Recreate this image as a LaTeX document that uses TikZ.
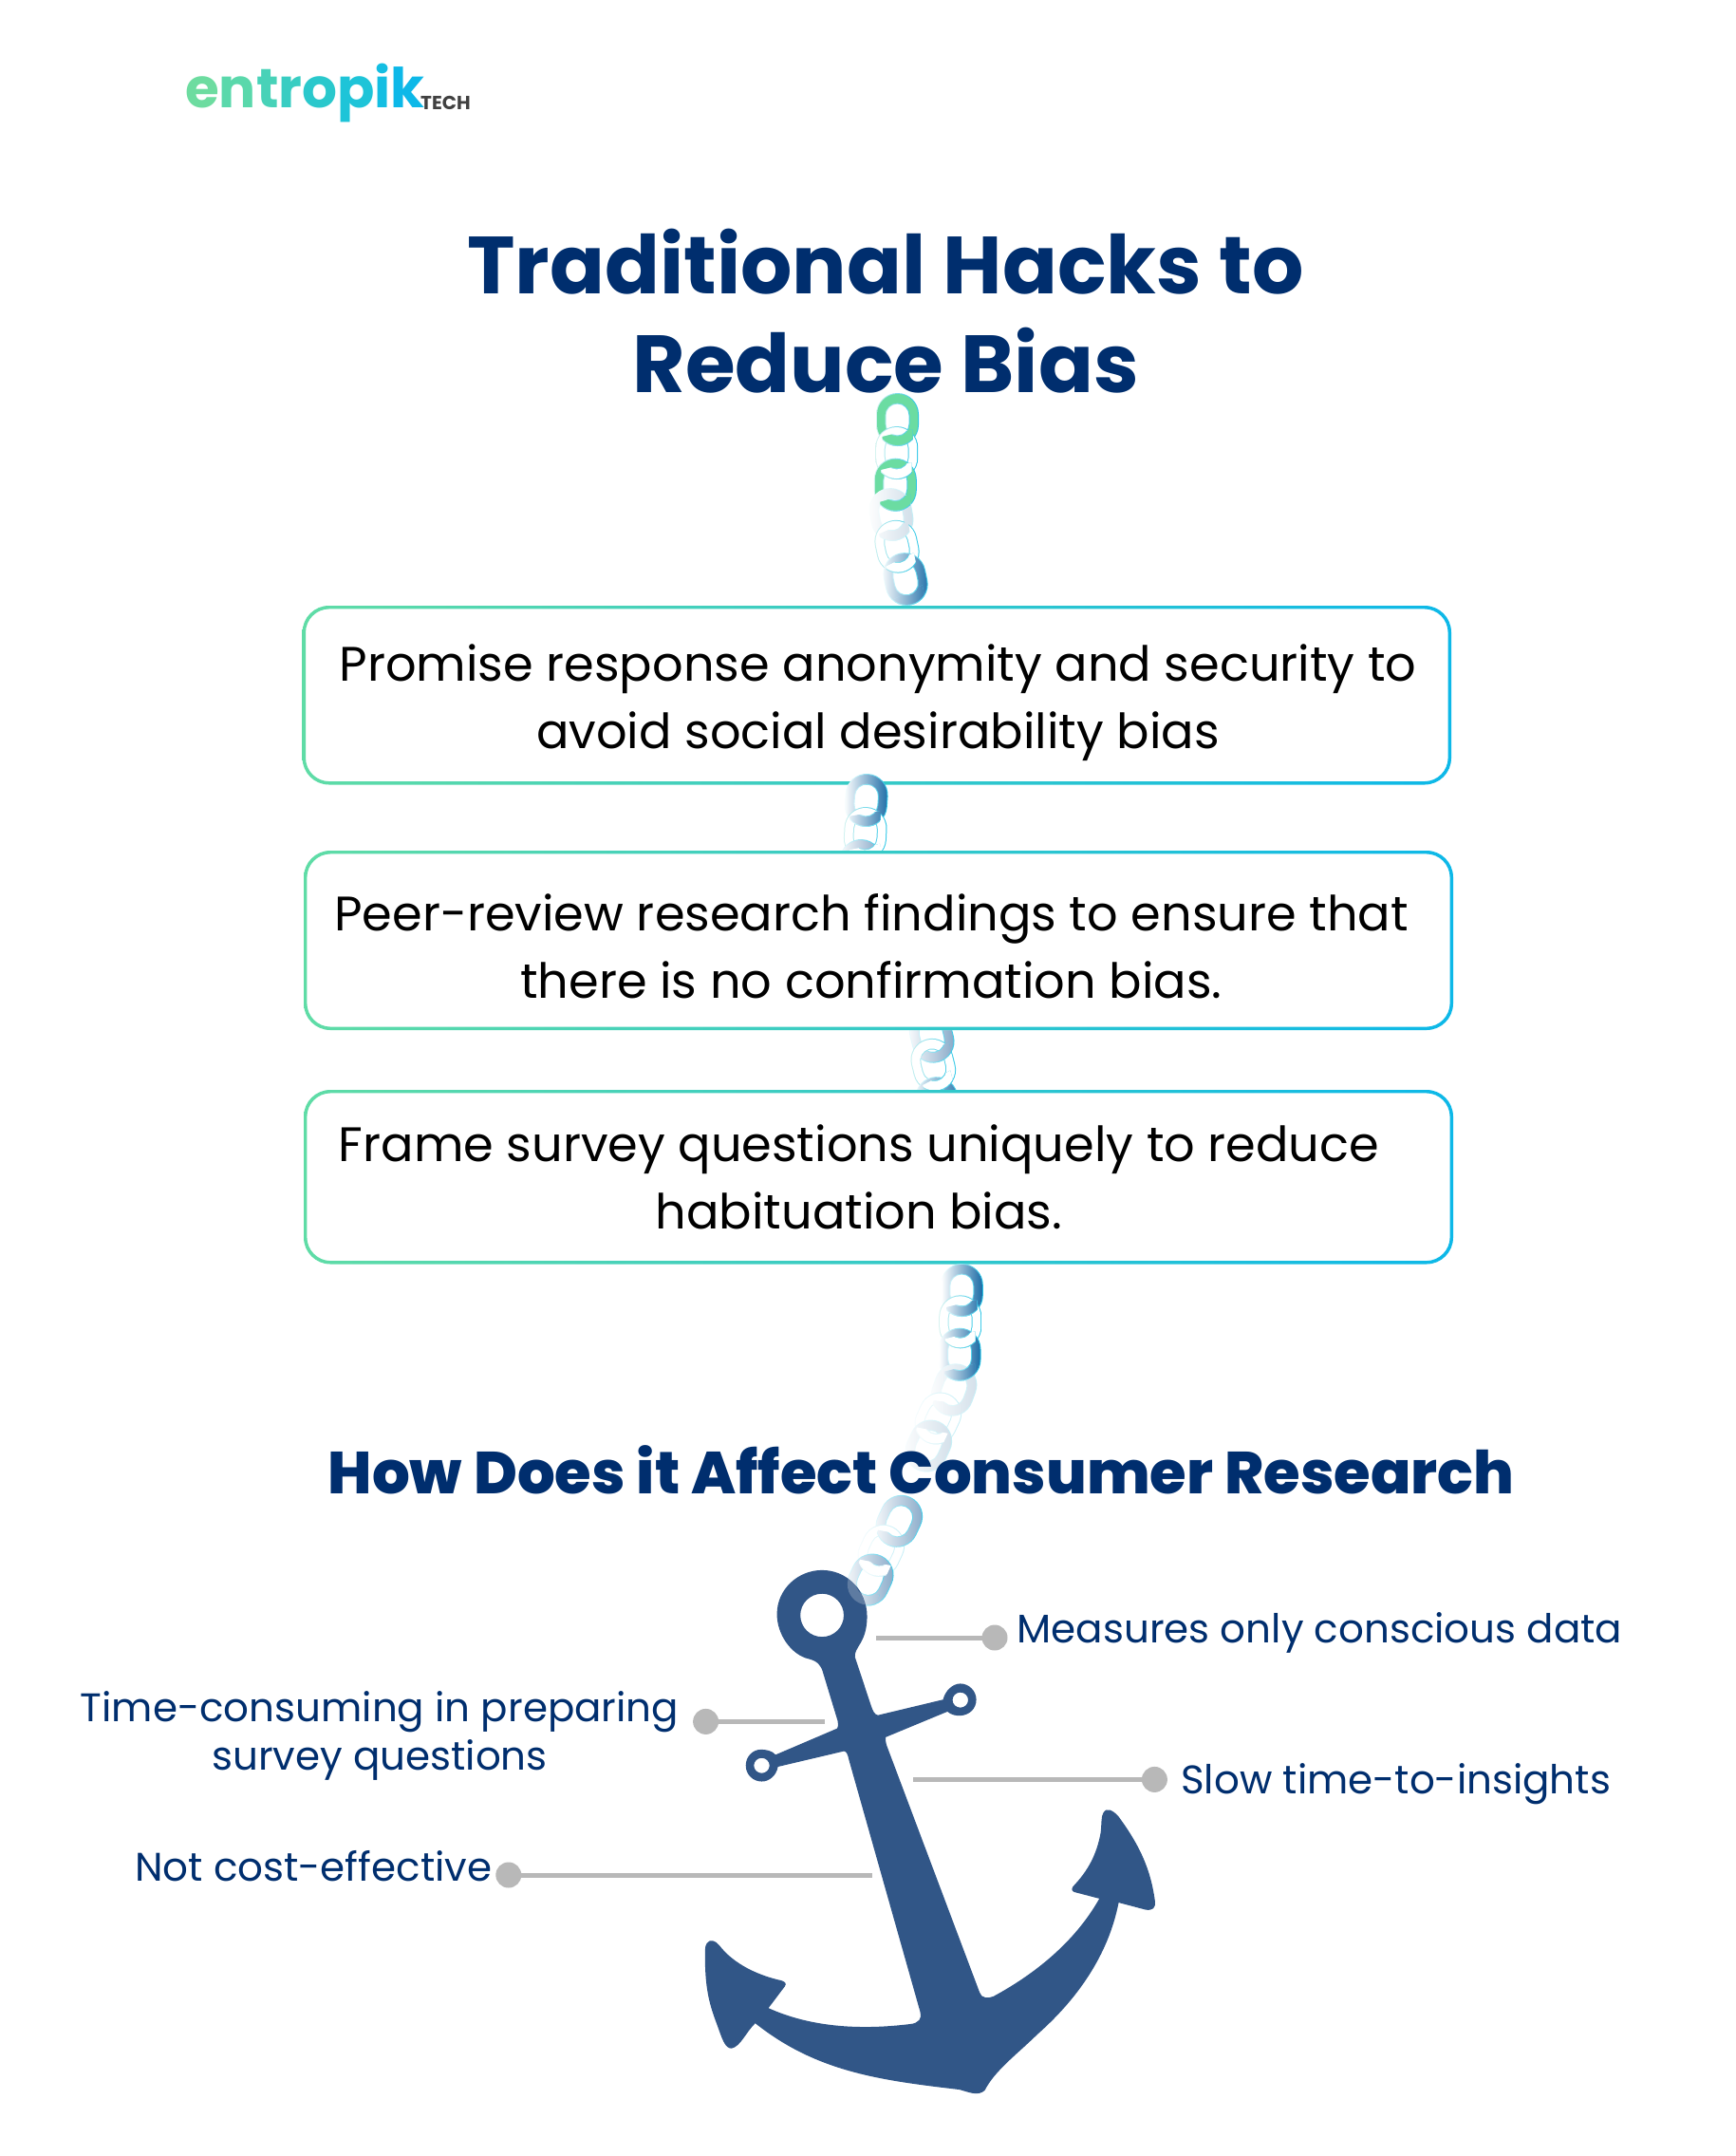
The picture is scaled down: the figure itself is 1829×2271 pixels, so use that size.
\documentclass[tikz,border=0pt]{standalone}
\usepackage{fontspec}
\setmainfont{Poppins}
\newfontfamily\heavyfont{Poppins ExtraBold}
\definecolor{navy}{HTML}{002E6E}
\definecolor{anchorblue}{HTML}{315687}
\definecolor{leadergray}{HTML}{B8B8B8}
\definecolor{boxgreen}{HTML}{5FDCA6}
\definecolor{boxblue}{HTML}{0DB8E8}
\definecolor{chaingreen}{HTML}{6BDCA2}
\definecolor{edgepale}{HTML}{D6F3F0}
\definecolor{edgecyan}{HTML}{22C4E6}
\definecolor{edgefaint}{HTML}{BDECF5}
\definecolor{deepblue}{HTML}{1C6CA6}
\definecolor{midblue}{HTML}{7FA3C4}
\definecolor{mistblue}{HTML}{CFDDE8}
\tikzset{
    rimbright/.style={even odd rule, left color=edgepale, right color=edgecyan},
    rimfade/.style={even odd rule, left color=white, right color=edgecyan},
    rimfaint/.style={even odd rule, left color=white, right color=edgefaint},
    linkgreen/.style={even odd rule, fill=chaingreen},
    linkblank/.style={even odd rule, fill=white},
    linkdeep/.style={even odd rule, left color=white, right color=deepblue},
    linkmid/.style={even odd rule, left color=white, right color=midblue},
    linkmist/.style={even odd rule, left color=white, right color=mistblue},
    boxring/.style={even odd rule, left color=boxgreen, right color=boxblue},
    boxtext/.style={inner sep=0, align=center, font=\fontsize{51}{71}\selectfont},
    sidetext/.style={inner sep=0, align=center, text=navy, font=\fontsize{42}{51}\selectfont},
    headtext/.style={inner sep=0, align=center, text=navy, font=\fontsize{85.4}{104}\bfseries\selectfont},
    leaderdot/.style={circle, fill=leadergray, inner sep=0, minimum size=27},
    leader/.style={draw=leadergray, line width=5}
}
\newcommand{\linkrings}[2]{
    \path[#2, rounded corners=22.5] (-22.5,-28) rectangle (22.5,28) [rounded corners=12] (-12,-16.5) rectangle (12,16.5);
    \path[#1, rounded corners=21.5] (-21.5,-27) rectangle (21.5,27) [rounded corners=13] (-13,-17.5) rectangle (13,17.5);
}
\newcommand{\linkchain}[1]{
    \foreach \kind/\rim/\px/\py/\tilt in {#1}{
        \begin{scope}[shift={(\px,\py)},rotate=\tilt]
            \linkrings{\kind}{\rim}
        \end{scope}
    }
    \foreach \kind/\rim/\px/\py/\tilt in {#1}{
        \begin{scope}[shift={(\px,\py)},rotate=\tilt]
            \clip (-16,18) -- (16,10) -- (16,32) -- (-16,32) -- cycle;
            \linkrings{\kind}{\rim}
        \end{scope}
    }
}
\newcommand{\ringbox}[4]{
    \fill[white, rounded corners=28] (#1,#2) rectangle (#3,#4);
    \path[boxring, rounded corners=28] (#1,#2) rectangle (#3,#4) [rounded corners=25] (#1+3.4,#2+3.4) rectangle (#3-3.4,#4-3.4);
}
\begin{document}
\begin{tikzpicture}[x=1pt, y=-1pt]
    \useasboundingbox (0,0) rectangle (1829,2271);

    \linkchain{linkgreen/rimbright/945.5/442/0, linkblank/rimbright/944.7/477/0, linkgreen/rimbright/943.3/510.7/0, linkmist/rimfaint/939/542/10, linkblank/rimbright/945/575.7/12, linkdeep/rimfade/954/610/12}
    \ringbox{318.6}{638}{1529}{826.5}
    \linkchain{linkdeep/rimfade/912.7/843/-4, linkblank/rimbright/911.7/878/-3, linkmid/rimfade/906.7/912/-3}
    \linkchain{linkmid/rimfade/981.7/1091.7/14, linkblank/rimbright/983.3/1121.7/14, linkdeep/rimfade/988/1162/14}
    \ringbox{320}{896}{1531}{1085}
    \ringbox{320}{1148}{1531}{1331.5}
    \linkchain{linkdeep/rimfade/1013.3/1359/0, linkblank/rimbright/1011.7/1392.3/0, linkdeep/rimfade/1011/1426.7/0, linkmist/rimfaint/1005/1464/-20, linkblank/rimfaint/988.3/1494/-25, linkmist/rimfaint/978.3/1523/-25, linkmid/rimfade/947.3/1602.3/-25, linkblank/rimfaint/928.3/1633.3/-25, linkmid/rimfade/916.7/1664/-25}

    \node[boxtext] (promise) at (925,740) {Promise response anonymity and security to\\avoid social desirability bias};
    \node[boxtext] (peer) at (918,997) {Peer-review research findings to ensure that\\there is no confirmation bias.};
    \node[boxtext] (frame) at (905,1240) {Frame survey questions uniquely to reduce\\habituation bias.};

    \node[anchor=base west, inner sep=0, font=\fontsize{58}{58}\bfseries\selectfont] (logoword) at (195,113) {\textcolor[HTML]{6DDCA0}{e}\textcolor[HTML]{5AD8AB}{n}\textcolor[HTML]{48D2B8}{t}\textcolor[HTML]{38CDC2}{r}\textcolor[HTML]{2AC8CC}{o}\textcolor[HTML]{1EC4D8}{p}\textcolor[HTML]{14BEE2}{i}\textcolor[HTML]{0DB8E8}{k}};
    \node[anchor=base west, inner sep=0, text=black!75, font=\fontsize{20}{20}\bfseries\selectfont] (logotech) at (443,115) {TECH};

    \node[headtext] (title) at (933,327.5) {Traditional Hacks to\\Reduce Bias};
    \node[inner sep=0, text=navy, font=\fontsize{62.5}{62.5}\heavyfont] (subtitle) at (970.5,1548) {How Does it Affect Consumer Research};

    \begin{scope}[shift={(700,1600)}, xscale=.35714, yscale=.42088]
        \fill[anchorblue, even odd rule] (562,345)
            .. controls (560,320) and (597,310) .. (598,245)
            .. controls (598,175) and (535,128) .. (465,128)
            .. controls (395,128) and (332,175) .. (332,238)
            .. controls (332,290) and (375,340) .. (425,350)
            .. controls (450,355) and (462,365) .. (468,385)
            -- (511,505)
            .. controls (513,515) and (512,522) .. (510,524)
            -- (328,590)
            .. controls (318,580) and (300,577) .. (285,577)
            .. controls (260,577) and (240,595) .. (240,617)
            .. controls (240,640) and (262,657) .. (287,657)
            .. controls (310,657) and (330,642) .. (335,620)
            -- (530,581)
            .. controls (538,582) and (541,590) .. (545,605)
            -- (755,1235)
            .. controls (760,1250) and (750,1262) .. (725,1264)
            .. controls (590,1278) and (440,1275) .. (307,1224)
            -- (355,1170)
            .. controls (362,1162) and (355,1158) .. (345,1155)
            .. controls (280,1143) and (205,1115) .. (162,1067)
            .. controls (150,1055) and (135,1050) .. (125,1062)
            .. controls (118,1070) and (120,1085) .. (120,1100)
            .. controls (120,1180) and (135,1220) .. (155,1265)
            .. controls (170,1300) and (178,1325) .. (198,1325)
            .. controls (225,1320) and (240,1285) .. (268,1262)
            .. controls (450,1385) and (640,1405) .. (870,1428)
            .. controls (900,1435) and (925,1445) .. (945,1430)
            .. controls (975,1380) and (1040,1340) .. (1100,1290)
            .. controls (1220,1200) and (1310,1090) .. (1340,960)
            -- (1420,978)
            .. controls (1440,980) and (1450,975) .. (1447,955)
            .. controls (1435,880) and (1405,820) .. (1340,745)
            .. controls (1325,730) and (1305,720) .. (1295,735)
            .. controls (1288,745) and (1290,760) .. (1287,785)
            .. controls (1275,840) and (1250,880) .. (1205,920)
            .. controls (1198,930) and (1205,933) .. (1215,935)
            -- (1283,950)
            .. controls (1210,1060) and (1090,1140) .. (970,1195)
            .. controls (955,1200) and (935,1200) .. (930,1185)
            -- (655,565)
            .. controls (652,555) and (652,548) .. (653,546)
            -- (835,482)
            .. controls (845,490) and (860,493) .. (875,492)
            .. controls (900,490) and (920,475) .. (920,452)
            .. controls (920,430) and (898,412) .. (873,412)
            .. controls (850,412) and (828,430) .. (822,452)
            -- (630,491)
            .. controls (620,490) and (615,480) .. (610,468)
            -- cycle
            (465,241) ellipse [x radius=64, y radius=54]
            (287,617) ellipse [x radius=23, y radius=19]
            (873,453) ellipse [x radius=23, y radius=19];
    \end{scope}
    \begin{scope}
        \clip (866,1701) circle (48);
        \begin{scope}[shift={(916.7,1664)},rotate=-25]
            \fill[white, fill opacity=.22, even odd rule, rounded corners=21.5] (-21.5,-27) rectangle (21.5,27) [rounded corners=13] (-13,-17.5) rectangle (13,17.5);
        \end{scope}
    \end{scope}

    \node[leaderdot] (dotconscious) at (1048,1725) {};
    \node[leaderdot] (dotpreparing) at (743.6,1813.4) {};
    \node[leaderdot] (dotslow) at (1216.4,1874.4) {};
    \node[leaderdot] (dotcost) at (535.8,1975) {};
    \coordinate (endconscious) at (923,1725);
    \coordinate (endpreparing) at (868.6,1813.4);
    \coordinate (endslow) at (961.8,1874.4);
    \coordinate (endcost) at (919,1975);
    \draw[leader] (dotconscious.center) -- (endconscious);
    \draw[leader] (dotpreparing.center) -- (endpreparing);
    \draw[leader] (dotslow.center) -- (endslow);
    \draw[leader] (dotcost.center) -- (endcost);

    \node[sidetext, anchor=west] (conscious) at (1071.5,1720) {Measures only conscious data};
    \node[sidetext, anchor=west] (slow) at (1244,1879) {Slow time-to-insights};
    \node[sidetext] (preparing) at (400,1828) {Time-consuming in preparing\\survey questions};
    \node[sidetext, anchor=west] (cost) at (142,1966) {Not cost-effective};
\end{tikzpicture}
\end{document}
